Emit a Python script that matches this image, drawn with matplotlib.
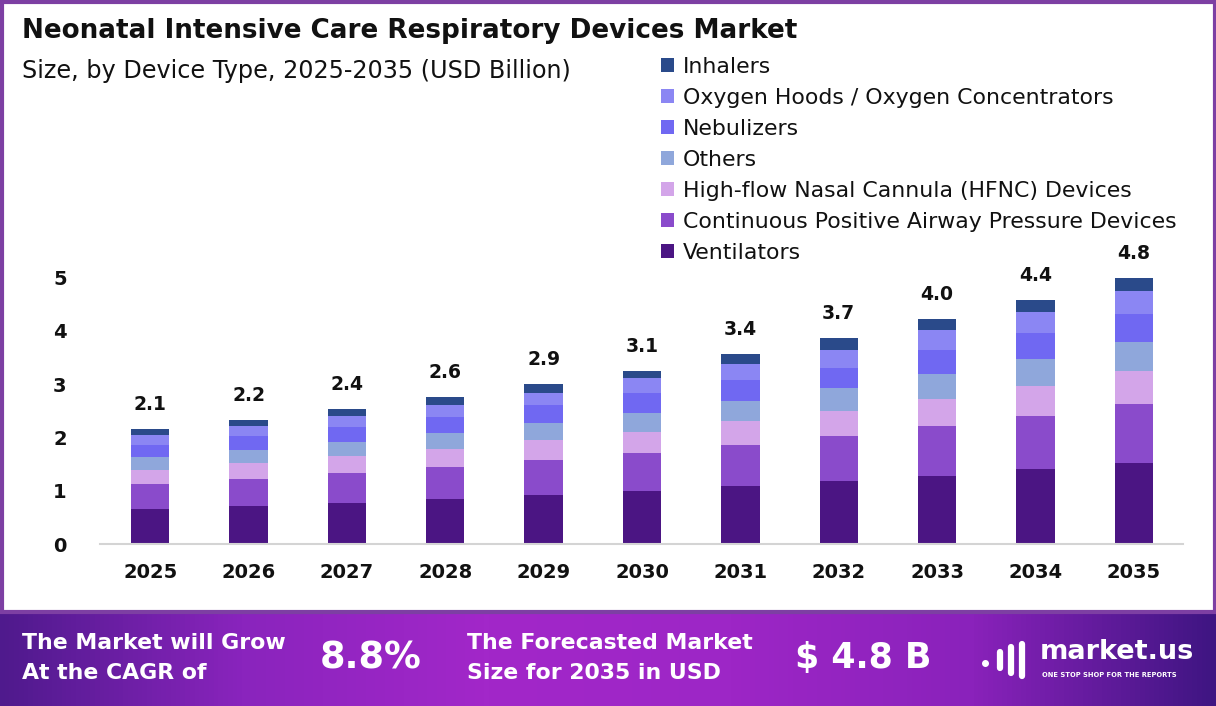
import numpy as np
import matplotlib
import matplotlib.pyplot as plt
from matplotlib.patches import Rectangle, Patch
from matplotlib.colors import LinearSegmentedColormap

matplotlib.use("Agg")
plt.rcParams["font.family"] = ["DejaVu Sans"]

years = ["2025", "2026", "2027", "2028", "2029", "2030",
         "2031", "2032", "2033", "2034", "2035"]
totals = [2.1, 2.2, 2.4, 2.6, 2.9, 3.1, 3.4, 3.7, 4.0, 4.4, 4.8]

# segments, bottom to top
ventilators = [0.66, 0.71, 0.77, 0.84, 0.92, 0.99, 1.09, 1.18, 1.28, 1.41, 1.52]
cpap = [0.47, 0.51, 0.56, 0.60, 0.66, 0.71, 0.77, 0.84, 0.94, 0.99, 1.11]
hfnc = [0.26, 0.30, 0.32, 0.34, 0.38, 0.41, 0.45, 0.47, 0.51, 0.56, 0.62]
others = [0.24, 0.24, 0.26, 0.30, 0.32, 0.34, 0.38, 0.43, 0.47, 0.51, 0.54]
nebulizers = [0.23, 0.26, 0.28, 0.30, 0.32, 0.38, 0.38, 0.39, 0.45, 0.49, 0.53]
oxygen_hoods = [0.19, 0.19, 0.21, 0.23, 0.24, 0.28, 0.30, 0.34, 0.36, 0.39, 0.43]
inhalers = [0.11, 0.11, 0.13, 0.15, 0.17, 0.13, 0.19, 0.21, 0.21, 0.23, 0.24]

segments = [
    ("Ventilators", ventilators, "#4b1583"),
    ("Continuous Positive Airway Pressure Devices", cpap, "#8a4bcb"),
    ("High-flow Nasal Cannula (HFNC) Devices", hfnc, "#d3a5e9"),
    ("Others", others, "#8fa7db"),
    ("Nebulizers", nebulizers, "#7068f2"),
    ("Oxygen Hoods / Oxygen Concentrators", oxygen_hoods, "#8b86f3"),
    ("Inhalers", inhalers, "#2a4a8a"),
]

W, H = 1216, 706
fig = plt.figure(figsize=(W / 100, H / 100), dpi=100)
fig.patch.set_facecolor("white")

# chart area
ax = fig.add_axes([100 / W, 1 - 544 / H, (1183 - 100) / W, (544 - 251) / H])
x = np.arange(len(years))
bottom = np.zeros(len(years))
for name, vals, col in segments:
    ax.bar(x, vals, bottom=bottom, width=0.39, color=col, label=name, zorder=2)
    bottom += np.array(vals)

for xi, top, lab in zip(x, bottom, totals):
    ax.text(xi, top + 0.28, f"{lab:.1f}", ha="center", va="bottom",
            fontsize=13.5, fontweight="bold", color="#111111")

ax.set_xlim(-0.51, 10.5)
ax.set_ylim(0, 5.5)
ax.set_yticks([0, 1, 2, 3, 4, 5])
ax.set_xticks(x)
ax.set_xticklabels(years)
for s in ["top", "right", "left"]:
    ax.spines[s].set_visible(False)
ax.spines["bottom"].set_color("#d4d4d4")
ax.spines["bottom"].set_linewidth(1.5)
ax.tick_params(axis="both", length=0, labelsize=14, colors="#111111")
ax.tick_params(axis="y", pad=24)
ax.tick_params(axis="x", pad=14)
for t in ax.get_xticklabels() + ax.get_yticklabels():
    t.set_fontweight("bold")

# legend, top item first
handles = [Patch(facecolor=c, label=n) for n, v, c in segments][::-1]
fig.legend(handles=handles, loc="upper left",
           bbox_to_anchor=(652 / W, 1 - 48 / H), frameon=False,
           fontsize=15.8, handlelength=0.62, handleheight=0.62,
           handletextpad=0.4, labelspacing=0.5, borderaxespad=0,
           labelcolor="#111111")

# titles
fig.text(22 / W, 1 - 31 / H, "Neonatal Intensive Care Respiratory Devices Market",
         fontsize=18.9, fontweight="bold", color="#111111", va="center")
fig.text(22 / W, 1 - 71 / H, "Size, by Device Type, 2025-2035 (USD Billion)",
         fontsize=17.2, color="#111111", va="center")

# frame around the chart
fig.patches.append(Rectangle((1.5 / W, (H - 612) / H), 1 - 3 / W,
                             (612 - 1.5) / H, transform=fig.transFigure,
                             fill=False, edgecolor="#7d3fa3", linewidth=3))

# footer band with gradient
fax = fig.add_axes([0, 0, 1, (H - 612) / H])
cmap = LinearSegmentedColormap.from_list(
    "band", ["#4f1a8d", "#8a24bd", "#a227c9", "#9d26c6", "#8a22bb", "#3f1582"])
fax.imshow(np.linspace(0, 1, 256).reshape(1, -1), cmap=cmap, aspect="auto",
           extent=[0, 1, 0, 1])
fax.set_xlim(0, 1)
fax.set_ylim(0, 1)
fax.axis("off")

fy = lambda py: (706 - py) / (706 - 612)
fx = lambda px: px / W
fax.text(fx(22), fy(658), "The Market will Grow\nAt the CAGR of", color="white",
         fontsize=15.8, fontweight="bold", va="center", linespacing=1.6)
fax.text(fx(320), fy(658), "8.8%", color="white", fontsize=26.5,
         fontweight="bold", va="center")
fax.text(fx(467), fy(658), "The Forecasted Market\nSize for 2035 in USD",
         color="white", fontsize=15.8, fontweight="bold", va="center",
         linespacing=1.6)
fax.text(fx(795), fy(658), "$ 4.8 B", color="white", fontsize=25,
         fontweight="bold", va="center")

# simple logo mark
for i, hgt in enumerate([0.18, 0.28, 0.34]):
    xc = fx(1000 + i * 11)
    fax.plot([xc, xc], [fy(660) - hgt / 2, fy(660) + hgt / 2], color="white",
             lw=4.5, solid_capstyle="round")
fax.plot([fx(985)], [fy(663)], "o", color="white", ms=4)
fax.text(fx(1040), fy(652), "market.us", color="white", fontsize=19.5,
         fontweight="bold", va="center")
fax.text(fx(1042), fy(675), "ONE STOP SHOP FOR THE REPORTS", color="white",
         fontsize=4.9, fontweight="bold", va="center")

fig.savefig("out.png", dpi=100)
